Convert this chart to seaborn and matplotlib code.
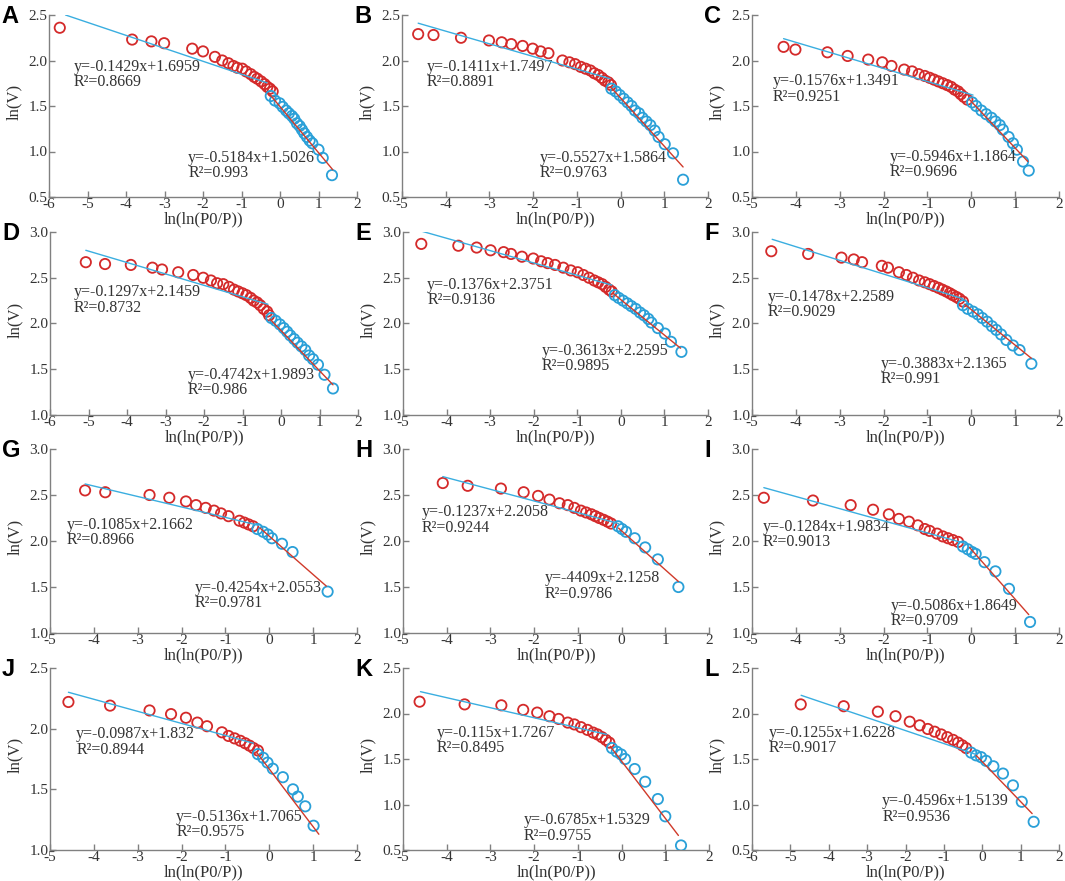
import matplotlib
matplotlib.use('Agg')
import matplotlib.pyplot as plt
import seaborn as sns

# open circles (red = first segment, blue = second segment)
a_red_x = [-5.72, -3.84, -3.34, -3.01, -2.28, -2.00, -1.69, -1.50, -1.34, -1.21, -1.11, -0.98, -0.88, -0.76, -0.67, -0.59, -0.49, -0.40, -0.33, -0.26, -0.19]
a_red_y = [2.36, 2.23, 2.21, 2.19, 2.13, 2.10, 2.04, 2.00, 1.97, 1.94, 1.92, 1.91, 1.88, 1.85, 1.82, 1.80, 1.77, 1.74, 1.71, 1.69, 1.66]
a_blue_x = [-0.24, -0.13, -0.01, 0.07, 0.16, 0.23, 0.31, 0.37, 0.44, 0.51, 0.57, 0.63, 0.70, 0.77, 0.84, 1.00, 1.11, 1.35]
a_blue_y = [1.61, 1.56, 1.53, 1.49, 1.45, 1.42, 1.39, 1.36, 1.31, 1.28, 1.24, 1.20, 1.16, 1.12, 1.09, 1.02, 0.93, 0.74]

b_red_x = [-4.63, -4.28, -3.65, -3.01, -2.72, -2.50, -2.24, -2.01, -1.83, -1.65, -1.33, -1.17, -1.04, -0.91, -0.80, -0.69, -0.60, -0.51, -0.43, -0.36, -0.28, -0.22]
b_red_y = [2.29, 2.28, 2.25, 2.22, 2.20, 2.18, 2.16, 2.13, 2.10, 2.08, 2.00, 1.98, 1.96, 1.93, 1.91, 1.89, 1.86, 1.84, 1.81, 1.78, 1.76, 1.73]
b_blue_x = [-0.21, -0.11, -0.02, 0.07, 0.16, 0.25, 0.33, 0.42, 0.50, 0.59, 0.68, 0.78, 0.87, 1.01, 1.20, 1.43]
b_blue_y = [1.69, 1.66, 1.62, 1.58, 1.54, 1.50, 1.45, 1.42, 1.37, 1.33, 1.29, 1.23, 1.16, 1.08, 0.98, 0.69]

c_red_x = [-4.28, -4.01, -3.28, -2.82, -2.35, -2.03, -1.82, -1.53, -1.35, -1.20, -1.06, -0.95, -0.85, -0.75, -0.65, -0.55, -0.46, -0.38, -0.30, -0.24, -0.17, -0.09]
c_red_y = [2.15, 2.12, 2.09, 2.05, 2.01, 1.98, 1.94, 1.90, 1.88, 1.85, 1.83, 1.81, 1.79, 1.77, 1.75, 1.73, 1.71, 1.68, 1.66, 1.63, 1.60, 1.57]
c_blue_x = [0.02, 0.11, 0.23, 0.34, 0.46, 0.55, 0.65, 0.72, 0.85, 0.95, 1.04, 1.18, 1.31]
c_blue_y = [1.54, 1.50, 1.45, 1.41, 1.37, 1.33, 1.29, 1.24, 1.16, 1.09, 1.02, 0.89, 0.79]

d_red_x = [-5.07, -4.57, -3.90, -3.34, -3.09, -2.67, -2.28, -2.02, -1.82, -1.66, -1.50, -1.35, -1.22, -1.11, -1.00, -0.90, -0.79, -0.71, -0.62, -0.54, -0.45, -0.36, -0.31]
d_red_y = [2.67, 2.65, 2.64, 2.61, 2.59, 2.56, 2.53, 2.50, 2.47, 2.44, 2.43, 2.40, 2.37, 2.35, 2.33, 2.31, 2.28, 2.25, 2.23, 2.20, 2.16, 2.13, 2.09]
d_blue_x = [-0.25, -0.14, -0.03, 0.07, 0.16, 0.24, 0.34, 0.43, 0.53, 0.63, 0.73, 0.83, 0.96, 1.13, 1.35]
d_blue_y = [2.06, 2.03, 1.99, 1.95, 1.91, 1.87, 1.83, 1.79, 1.75, 1.71, 1.65, 1.61, 1.55, 1.44, 1.29]

e_red_x = [-4.58, -3.73, -3.31, -2.99, -2.69, -2.52, -2.27, -2.01, -1.83, -1.68, -1.51, -1.32, -1.15, -0.99, -0.86, -0.73, -0.61, -0.52, -0.43, -0.35, -0.27, -0.21]
e_red_y = [2.87, 2.85, 2.83, 2.80, 2.78, 2.76, 2.73, 2.71, 2.68, 2.66, 2.64, 2.61, 2.58, 2.56, 2.53, 2.50, 2.47, 2.45, 2.43, 2.40, 2.37, 2.35]
e_blue_x = [-0.14, -0.05, 0.05, 0.15, 0.24, 0.34, 0.44, 0.53, 0.63, 0.70, 0.85, 1.01, 1.15, 1.39]
e_blue_y = [2.31, 2.28, 2.25, 2.22, 2.19, 2.16, 2.12, 2.09, 2.05, 2.01, 1.95, 1.89, 1.80, 1.69]

f_red_x = [-4.56, -3.72, -2.96, -2.68, -2.49, -2.04, -1.90, -1.65, -1.48, -1.33, -1.19, -1.06, -0.95, -0.85, -0.75, -0.66, -0.57, -0.49, -0.42, -0.34, -0.27, -0.19]
f_red_y = [2.79, 2.76, 2.72, 2.70, 2.67, 2.63, 2.61, 2.56, 2.53, 2.50, 2.47, 2.45, 2.43, 2.41, 2.39, 2.37, 2.35, 2.33, 2.31, 2.29, 2.27, 2.24]
f_blue_x = [-0.19, -0.08, 0.04, 0.15, 0.25, 0.36, 0.47, 0.57, 0.68, 0.80, 0.95, 1.10, 1.37]
f_blue_y = [2.20, 2.16, 2.13, 2.10, 2.06, 2.02, 1.97, 1.93, 1.88, 1.82, 1.76, 1.71, 1.56]

g_red_x = [-4.20, -3.74, -2.73, -2.28, -1.90, -1.67, -1.45, -1.26, -1.10, -0.93, -0.68, -0.57, -0.47, -0.37]
g_red_y = [2.55, 2.53, 2.50, 2.47, 2.43, 2.39, 2.36, 2.33, 2.30, 2.27, 2.22, 2.20, 2.18, 2.16]
g_blue_x = [-0.27, -0.14, -0.03, 0.06, 0.29, 0.53, 1.33]
g_blue_y = [2.13, 2.10, 2.07, 2.03, 1.97, 1.88, 1.45]

h_red_x = [-4.09, -3.52, -2.76, -2.24, -1.91, -1.65, -1.42, -1.23, -1.08, -0.93, -0.81, -0.69, -0.60, -0.51, -0.41, -0.32, -0.24]
h_red_y = [2.63, 2.60, 2.57, 2.53, 2.49, 2.45, 2.41, 2.39, 2.36, 2.33, 2.31, 2.29, 2.27, 2.25, 2.23, 2.21, 2.19]
h_blue_x = [-0.08, 0.01, 0.10, 0.30, 0.54, 0.83, 1.30]
h_blue_y = [2.16, 2.13, 2.10, 2.03, 1.93, 1.80, 1.50]

i_red_x = [-4.73, -3.61, -2.75, -2.24, -1.88, -1.65, -1.42, -1.22, -1.06, -0.95, -0.78, -0.65, -0.53, -0.42, -0.30]
i_red_y = [2.47, 2.44, 2.39, 2.34, 2.29, 2.24, 2.21, 2.17, 2.13, 2.11, 2.08, 2.05, 2.03, 2.01, 1.99]
i_blue_x = [-0.19, -0.08, 0.02, 0.10, 0.30, 0.55, 0.86, 1.34]
i_blue_y = [1.94, 1.91, 1.88, 1.86, 1.77, 1.67, 1.48, 1.12]

j_red_x = [-4.58, -3.63, -2.73, -2.24, -1.90, -1.64, -1.42, -1.08, -0.93, -0.79, -0.66, -0.55, -0.45, -0.36, -0.26]
j_red_y = [2.22, 2.19, 2.15, 2.12, 2.09, 2.05, 2.02, 1.97, 1.94, 1.92, 1.90, 1.88, 1.86, 1.84, 1.82]
j_blue_x = [-0.26, -0.14, -0.04, 0.08, 0.31, 0.54, 0.65, 0.82, 1.01]
j_blue_y = [1.79, 1.76, 1.72, 1.67, 1.60, 1.50, 1.44, 1.36, 1.20]

k_red_x = [-4.62, -3.59, -2.75, -2.25, -1.93, -1.65, -1.44, -1.23, -1.08, -0.93, -0.78, -0.65, -0.55, -0.45, -0.36, -0.28]
k_red_y = [2.13, 2.10, 2.09, 2.04, 2.01, 1.97, 1.94, 1.90, 1.88, 1.85, 1.82, 1.79, 1.77, 1.74, 1.71, 1.68]
k_blue_x = [-0.22, -0.11, -0.01, 0.08, 0.30, 0.54, 0.83, 1.00, 1.36]
k_blue_y = [1.62, 1.58, 1.55, 1.50, 1.39, 1.25, 1.06, 0.87, 0.55]

l_red_x = [-4.73, -3.61, -2.72, -2.26, -1.89, -1.63, -1.42, -1.24, -1.07, -0.91, -0.76, -0.63, -0.52, -0.42]
l_red_y = [2.10, 2.08, 2.02, 1.97, 1.91, 1.87, 1.83, 1.80, 1.77, 1.74, 1.71, 1.68, 1.65, 1.62]
l_blue_x = [-0.29, -0.16, -0.03, 0.10, 0.29, 0.54, 0.80, 1.03, 1.34]
l_blue_y = [1.57, 1.54, 1.52, 1.48, 1.42, 1.34, 1.21, 1.03, 0.81]

# fitted lines as drawn: (x start, x end, y start, y end)
blue_lines = [(-5.57, -0.34, 2.50, 1.755), (-4.63, -0.24, 2.41, 1.80), (-4.28, 0.04, 2.24, 1.62),
              (-5.07, -0.34, 2.80, 2.21), (-4.58, -0.21, 3.01, 2.42), (-4.54, -0.19, 2.92, 2.27),
              (-4.20, -0.24, 2.62, 2.17), (-4.09, -0.07, 2.70, 2.19), (-4.73, -0.11, 2.58, 1.97),
              (-4.58, -0.36, 2.30, 1.88), (-4.60, -0.34, 2.24, 1.77), (-4.72, -0.16, 2.20, 1.55)]
red_lines = [(-0.27, 1.37, 1.63, 0.80), (-0.21, 1.43, 1.70, 0.83), (-0.04, 1.29, 1.57, 0.89),
             (-0.29, 1.35, 2.05, 1.33), (-0.18, 1.37, 2.33, 1.73), (-0.15, 1.37, 2.21, 1.62),
             (-0.21, 1.30, 2.14, 1.51), (-0.07, 1.30, 2.14, 1.56), (-0.04, 1.31, 1.93, 1.20),
             (-0.30, 1.13, 1.81, 1.13), (-0.26, 1.30, 1.64, 0.66), (-0.16, 1.30, 1.54, 0.90)]

letters = ['A', 'B', 'C', 'D', 'E', 'F', 'G', 'H', 'I', 'J', 'K', 'L']
eq_upper = ['y=-0.1429x+1.6959\nR²=0.8669', 'y=-0.1411x+1.7497\nR²=0.8891', 'y=-0.1576x+1.3491\nR²=0.9251',
            'y=-0.1297x+2.1459\nR²=0.8732', 'y=-0.1376x+2.3751\nR²=0.9136', 'y=-0.1478x+2.2589\nR²=0.9029',
            'y=-0.1085x+2.1662\nR²=0.8966', 'y=-0.1237x+2.2058\nR²=0.9244', 'y=-0.1284x+1.9834\nR²=0.9013',
            'y=-0.0987x+1.832\nR²=0.8944', 'y=-0.115x+1.7267\nR²=0.8495', 'y=-0.1255x+1.6228\nR²=0.9017']
eq_lower = ['y=-0.5184x+1.5026\nR²=0.993', 'y=-0.5527x+1.5864\nR²=0.9763', 'y=-0.5946x+1.1864\nR²=0.9696',
            'y=-0.4742x+1.9893\nR²=0.986', 'y=-0.3613x+2.2595\nR²=0.9895', 'y=-0.3883x+2.1365\nR²=0.991',
            'y=-0.4254x+2.0553\nR²=0.9781', 'y=-4409x+2.1258\nR²=0.9786', 'y=-0.5086x+1.8649\nR²=0.9709',
            'y=-0.5136x+1.7065\nR²=0.9575', 'y=-0.6785x+1.5329\nR²=0.9755', 'y=-0.4596x+1.5139\nR²=0.9536']
x_lims = [(-6, 2), (-5, 2), (-5, 2), (-6, 2), (-5, 2), (-5, 2), (-5, 2), (-5, 2), (-5, 2), (-5, 2), (-5, 2), (-6, 2)]
y_lims = [(0.5, 2.5), (0.5, 2.5), (0.5, 2.5), (1.0, 3.0), (1.0, 3.0), (1.0, 3.0),
          (1.0, 3.0), (1.0, 3.0), (1.0, 3.0), (1.0, 2.5), (0.5, 2.5), (0.5, 2.5)]

red_pts = [(a_red_x, a_red_y), (b_red_x, b_red_y), (c_red_x, c_red_y), (d_red_x, d_red_y),
           (e_red_x, e_red_y), (f_red_x, f_red_y), (g_red_x, g_red_y), (h_red_x, h_red_y),
           (i_red_x, i_red_y), (j_red_x, j_red_y), (k_red_x, k_red_y), (l_red_x, l_red_y)]
blue_pts = [(a_blue_x, a_blue_y), (b_blue_x, b_blue_y), (c_blue_x, c_blue_y), (d_blue_x, d_blue_y),
            (e_blue_x, e_blue_y), (f_blue_x, f_blue_y), (g_blue_x, g_blue_y), (h_blue_x, h_blue_y),
            (i_blue_x, i_blue_y), (j_blue_x, j_blue_y), (k_blue_x, k_blue_y), (l_blue_x, l_blue_y)]

# layout in pixels (left, right, top, bottom)
col_lr = [[(49, 357), (402, 708), (752, 1059)],
          [(50, 358), (403, 708), (752, 1059)],
          [(50, 357), (403, 709), (752, 1059)],
          [(50, 357), (403, 709), (752, 1059)]]
row_tb = [(15, 197), (232, 415), (449, 633), (668, 850)]
# equation text anchors, axes fraction (upper, lower)
eq_pos = [((0.080, 0.76), (0.452, 0.26)), ((0.082, 0.76), (0.451, 0.26)), ((0.068, 0.68), (0.448, 0.265)),
          ((0.078, 0.715), (0.446, 0.265)), ((0.079, 0.755), (0.455, 0.395)), ((0.052, 0.69), (0.419, 0.325)),
          ((0.054, 0.63), (0.470, 0.29)), ((0.062, 0.70), (0.462, 0.34)), ((0.036, 0.62), (0.452, 0.19)),
          ((0.085, 0.68), (0.411, 0.227)), ((0.111, 0.687), (0.394, 0.207)), ((0.055, 0.687), (0.424, 0.312))]

W, H = 1065, 881
red = '#d42a2a'
blue = '#2aa0d8'
gray = '#808080'
txt = '#333333'

sns.set_theme(style='ticks')
plt.rcParams['font.family'] = ['Liberation Serif', 'DejaVu Serif']
plt.rcParams['axes.unicode_minus'] = False

fig = plt.figure(figsize=(W / 100, H / 100), dpi=100)

for k in range(12):
    r, c = divmod(k, 3)
    left, right = col_lr[r][c]
    top, bottom = row_tb[r]
    ax = fig.add_axes([left / W, 1 - bottom / H, (right - left) / W, (bottom - top) / H])
    wpx, hpx = right - left, bottom - top

    rx, ry = red_pts[k]
    bx, by = blue_pts[k]
    sns.scatterplot(x=rx, y=ry, ax=ax, marker='o', s=55, color=red, facecolor='none',
                    edgecolor=red, linewidth=1.3, zorder=3)
    sns.scatterplot(x=bx, y=by, ax=ax, marker='o', s=55, color=blue, facecolor='none',
                    edgecolor=blue, linewidth=1.3, zorder=3)
    x0, x1, y0, y1 = blue_lines[k]
    sns.lineplot(x=[x0, x1], y=[y0, y1], ax=ax, color='#3aaee0', linewidth=1.0, zorder=4)
    x0, x1, y0, y1 = red_lines[k]
    sns.lineplot(x=[x0, x1], y=[y0, y1], ax=ax, color='#d03a2a', linewidth=1.0, zorder=4)

    ax.set_xlim(*x_lims[k])
    ax.set_ylim(*y_lims[k])
    ax.set_xticks(range(x_lims[k][0], x_lims[k][1] + 1))
    lo, hi = y_lims[k]
    yt = []
    v = lo
    while v <= hi + 1e-9:
        yt.append(v)
        v += 0.5
    ax.set_yticks(yt)
    ax.set_yticklabels(['{:.1f}'.format(t) for t in yt])
    ax.set_xticklabels([str(t) for t in range(x_lims[k][0], x_lims[k][1] + 1)])

    sns.despine(ax=ax)
    for s in ['left', 'bottom']:
        ax.spines[s].set_color(gray)
        ax.spines[s].set_linewidth(1.0)
    ax.tick_params(direction='in', length=4, width=1.0, color=gray, labelcolor=txt,
                   labelsize=11, pad=1)

    ax.set_xlabel('ln(ln(P0/P))', fontsize=12, color=txt)
    ax.set_ylabel('ln(V)', fontsize=12, color=txt)
    ax.xaxis.set_label_coords(0.5, -14 / hpx)
    ax.yaxis.set_label_coords(-27 / wpx, 0.52)

    (ux, uy), (lx, ly) = eq_pos[k]
    ax.text(ux, uy, eq_upper[k], transform=ax.transAxes, fontsize=11.5, color=txt,
            ha='left', va='top', linespacing=0.95)
    ax.text(lx, ly, eq_lower[k], transform=ax.transAxes, fontsize=11.5, color=txt,
            ha='left', va='top', linespacing=0.95)

    fig.text((left - 48) / W, 1 - (top - 10) / H, letters[k], fontsize=17, fontweight='bold',
             family=['Liberation Sans', 'DejaVu Sans'], color='black', ha='left', va='top')

fig.savefig('out.png', dpi=100)
